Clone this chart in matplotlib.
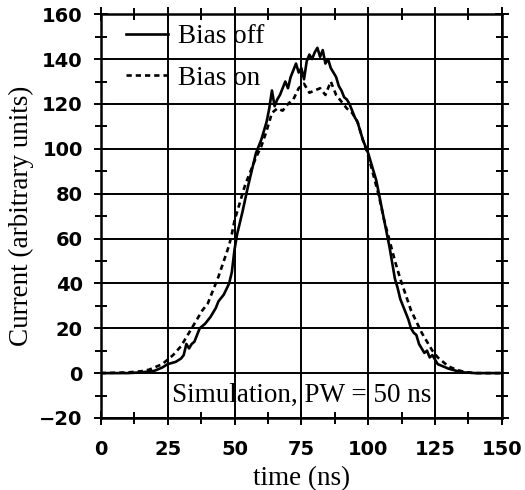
import numpy as np
import matplotlib.pyplot as plt
from matplotlib.ticker import MultipleLocator

# bias off (solid)
t_off = [0, 10, 15, 20, 23, 25, 28, 30, 31, 32, 33, 34, 35, 37, 39, 41, 43, 44, 46, 48,
         49, 50, 51, 53, 55, 57, 58, 60, 61, 62, 63, 64, 65, 66, 67, 68, 69, 70, 71, 72,
         73, 74, 75, 76, 77, 78, 79, 80, 81, 82, 83, 84, 85, 86, 87, 88, 89, 90, 91, 92,
         93, 94, 95, 96, 97, 98, 99, 100, 101, 102, 103, 104, 105, 106, 107, 108, 109, 110,
         111, 112, 113, 114, 115, 116, 117, 118, 119, 120, 121, 122, 123, 124, 125, 126,
         128, 130, 133, 136, 140, 150]
i_off = [0, 0, 0.3, 1, 2.5, 4, 5, 6.5, 8, 13, 11, 13, 14, 20, 22, 25, 29, 32, 35, 40,
         45, 55, 62, 72, 83, 93, 98, 104, 108, 112, 118, 126, 119, 122, 124, 127, 130, 127, 132, 135,
         138, 134, 136, 131, 139, 142, 140, 143, 145, 141, 144, 138, 140, 136, 134, 132, 128, 126, 123, 122,
         120, 117, 114, 112, 108, 104, 101, 98, 94, 90, 86, 80, 74, 68, 62, 56, 49, 42,
         38, 33, 30, 27, 24, 20, 18, 17, 13, 11, 9, 10, 7, 8, 6, 4,
         3, 2, 1, 0.3, 0, 0]

# bias on (dashed)
t_on = [0, 10, 15, 18, 20, 23, 25, 27, 30, 32, 34, 36, 38, 40, 42, 44, 46, 48, 49, 50,
        52, 54, 56, 58, 60, 62, 64, 66, 68, 70, 72, 74, 76, 78, 80, 82, 84, 86, 88, 90,
        92, 94, 96, 98, 100, 102, 104, 106, 108, 110, 112, 114, 116, 118, 120, 122, 124,
        126, 128, 130, 133, 136, 140, 150]
i_on = [0, 0.3, 0.8, 1.5, 2.5, 4, 6, 8, 12, 16, 20, 24, 28, 31, 37, 43, 50, 57, 62, 68,
        76, 84, 90, 96, 101, 108, 116, 118, 117, 120, 122, 127, 129, 125, 126, 127, 124, 130, 124, 121,
        118, 116, 112, 104, 97, 88, 79, 68, 59, 50, 42, 35, 28, 23, 18, 14, 10,
        7, 5, 3, 1.5, 0.5, 0, 0]

fig = plt.figure(figsize=(5.25, 4.9), dpi=100)
ax = fig.add_axes([0.192, 0.147, 0.764, 0.824])

ax.plot(t_off, i_off, color='black', lw=1.9, label='Bias off')
ax.plot(t_on, i_on, color='black', lw=1.9, ls=(0, (2.0, 1.5)), label='Bias on')

ax.set_xlim(0, 150)
ax.set_ylim(-20, 160)
ax.xaxis.set_major_locator(MultipleLocator(25))
ax.xaxis.set_minor_locator(MultipleLocator(12.5))
ax.yaxis.set_major_locator(MultipleLocator(20))
ax.yaxis.set_minor_locator(MultipleLocator(10))
ax.grid(True, which='major', color='black', lw=1.4)
ax.tick_params(which='both', direction='inout', top=True, right=True,
               width=1.4, color='black')
ax.tick_params(which='major', length=10, labelsize=14)
ax.tick_params(axis='x', which='major', pad=11)
ax.tick_params(axis='y', which='major', pad=8)
ax.tick_params(which='minor', length=9)
for lbl in ax.get_xticklabels() + ax.get_yticklabels():
    lbl.set_fontweight('bold')
for s in ax.spines.values():
    s.set_linewidth(1.8)

ax.set_xlabel('time (ns)', family='Liberation Serif', fontsize=19.5, labelpad=5)
ax.set_ylabel('Current (arbitrary units)', family='Liberation Serif', fontsize=19.5, labelpad=4)

ax.legend(loc='upper left', bbox_to_anchor=(0.063, 0.975), frameon=False,
          prop={'family': 'Liberation Serif', 'size': 19.5}, handlelength=1.55,
          handletextpad=0.35, labelspacing=0.6, borderaxespad=0, borderpad=0)

ax.text(75, -10, 'Simulation, PW = 50 ns', family='Liberation Serif', fontsize=19.5,
        ha='center', va='center')

fig.savefig('out.png')
